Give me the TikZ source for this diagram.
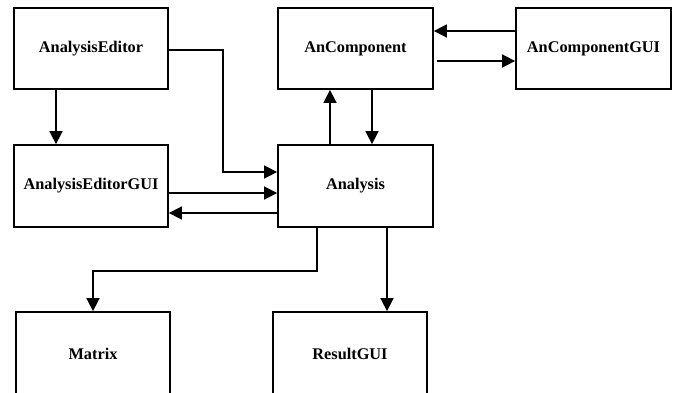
\documentclass[tikz,border=0pt]{standalone}
\usepackage{fontspec}
\setmainfont{Liberation Serif}
\usetikzlibrary{arrows.meta}
\tikzset{
  box/.style={draw, line width=1.8pt, minimum width=154pt, minimum height=81pt, inner sep=0pt,
    font=\fontsize{16.3}{19}\selectfont\bfseries},
  arr/.style={line width=1.7pt, -{Triangle[length=13pt,width=13pt]}}
}
\begin{document}
\begin{tikzpicture}[x=1pt,y=-1pt]
\useasboundingbox (0,0) rectangle (676,392);
\node[box] (ae)  at (91,48.5)   {AnalysisEditor};
\node[box, minimum height=82pt] (aeg) at (91,186) {AnalysisEditorGUI};
\node[box, minimum width=155pt] (ac)  at (355.5,48.5) {AnComponent};
\node[box, minimum width=155pt] (acg) at (593.5,48.5) {AnComponentGUI};
\node[box, minimum width=155pt, minimum height=82pt] (an) at (355.5,186) {Analysis};
\node[box, minimum height=84pt] (mx) at (93,354) {Matrix};
\node[box, minimum height=84pt] (rg) at (350,354) {ResultGUI};
% connectors
\draw[arr] ([xshift=-35pt]ae.south) -- ([xshift=-35pt]aeg.north);
\draw[arr] ([yshift=-1.5pt]ae.east) -- ++(54,0) |- ([yshift=14pt]an.west);
\draw[arr] ([yshift=-7pt,xshift=-2pt]aeg.east) -- ([yshift=-7pt]an.west);
\draw[arr] ([yshift=-27pt]an.west) -- ([yshift=-27pt]aeg.east);
\draw[arr] ([xshift=-25.5pt]an.north) -- ([xshift=-25.5pt]ac.south);
\draw[arr] ([xshift=16.5pt]ac.south) -- ([xshift=16.5pt]an.north);
\draw[arr] ([yshift=17.5pt]acg.west) -- ([yshift=17.5pt]ac.east);
\draw[arr] ([yshift=-12.5pt,xshift=3pt]ac.east) -- ([yshift=-12.5pt]acg.west);
\draw[arr] ([xshift=-38.5pt]an.south) -- ++(0,43) -| (mx.north);
\draw[arr] ([xshift=31.5pt]an.south) -- ([xshift=31.5pt]an.south |- rg.north);
\end{tikzpicture}
\end{document}
